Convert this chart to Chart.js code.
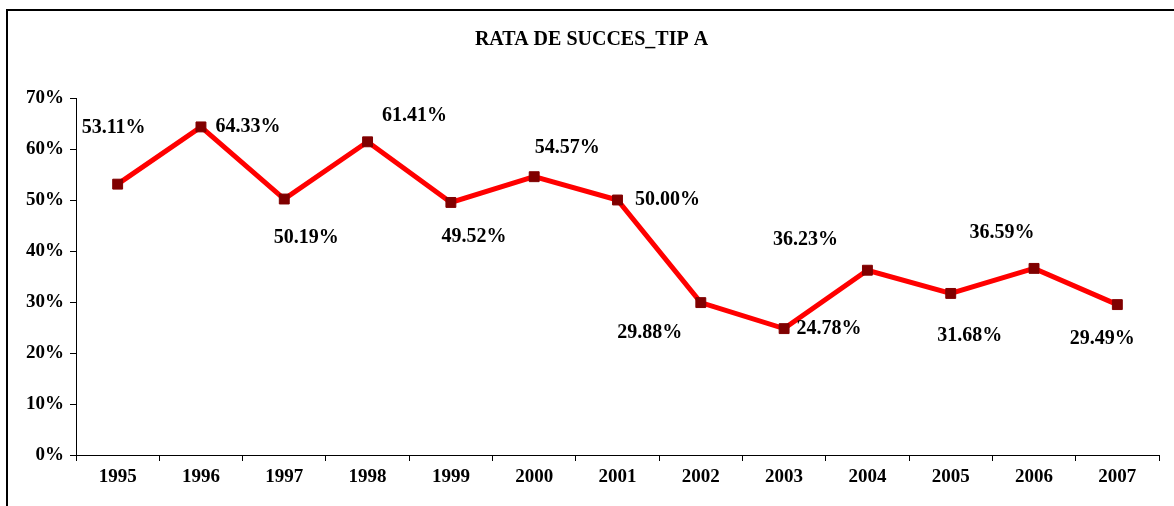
<!DOCTYPE html>
<html>
<head>
<meta charset="utf-8">
<script src="https://cdn.jsdelivr.net/npm/chart.js@4/dist/chart.umd.min.js"></script>
<style>
  html, body { margin: 0; padding: 0; background: #fff; }
  #wrap { width: 1174px; height: 506px; position: relative; }
</style>
</head>
<body>
<div id="wrap"><canvas id="c" width="1174" height="506"></canvas></div>
<script>
'use strict';

const years = ['1995', '1996', '1997', '1998', '1999', '2000', '2001',
  '2002', '2003', '2004', '2005', '2006', '2007'];
const successRate = [53.11, 64.33, 50.19, 61.41, 49.52, 54.57, 50.00,
  29.88, 24.78, 36.23, 31.68, 36.59, 29.49];
const yTicks = [0, 10, 20, 30, 40, 50, 60, 70];

// where each value label sits relative to its point (dx, dy)
const labelOffsets = [
  [-4, -56], [47, 0], [22, 39], [47, -26], [23, 34], [33, -29], [50, 0],
  [-51, 30], [45, 0], [-62, -30], [19, 42], [-32, -36], [-15, 34]
];

const serif = '"Liberation Serif", "Times New Roman", serif';

const frame = {
  id: 'frame',
  beforeDraw(chart) {
    const ctx = chart.ctx;
    ctx.save();
    ctx.fillStyle = '#fff';
    ctx.fillRect(0, 0, chart.width, chart.height);
    ctx.strokeStyle = '#000';
    ctx.lineWidth = 2;
    ctx.strokeRect(7, 10, chart.width + 20, chart.height + 20);
    ctx.restore();
  }
};

const valueLabels = {
  id: 'valueLabels',
  afterDatasetsDraw(chart) {
    const ctx = chart.ctx;
    const meta = chart.getDatasetMeta(0);
    ctx.save();
    ctx.font = 'bold 20px ' + serif;
    ctx.fillStyle = '#000';
    ctx.textAlign = 'center';
    ctx.textBaseline = 'middle';
    meta.data.forEach((pt, i) => {
      const off = labelOffsets[i];
      ctx.fillText(successRate[i].toFixed(2) + '%', pt.x + off[0], pt.y + off[1]);
    });
    ctx.restore();
  }
};

new Chart(document.getElementById('c'), {
  type: 'line',
  data: {
    labels: years,
    datasets: [{
      label: 'Rata de succes',
      data: successRate,
      borderColor: '#ff0000',
      borderWidth: 5,
      backgroundColor: '#800000',
      pointStyle: 'rect',
      pointRadius: 7,
      pointHoverRadius: 7,
      pointBackgroundColor: '#800000',
      pointBorderColor: '#800000',
      pointBorderWidth: 1,
      tension: 0
    }]
  },
  options: {
    responsive: false,
    animation: false,
    devicePixelRatio: 1,
    layout: { padding: { top: 20, right: 15, bottom: 0, left: 24 } },
    plugins: {
      legend: { display: false },
      tooltip: { enabled: false },
      title: {
        display: true,
        text: 'RATA DE SUCCES_TIP A',
        color: '#000',
        font: { family: serif, size: 20, weight: 'bold' },
        padding: { top: 8, bottom: 46 }
      }
    },
    scales: {
      x: {
        offset: true,
        grid: {
          offset: true,
          drawOnChartArea: false,
          drawTicks: true,
          tickLength: 6,
          color: '#000'
        },
        border: { color: '#000', width: 1 },
        ticks: {
          color: '#000',
          padding: 5,
          maxRotation: 0,
          font: { family: serif, size: 19, weight: 'bold' }
        },
        afterFit(scale) { scale.height = 51; }
      },
      y: {
        min: 0,
        max: 70,
        afterBuildTicks(scale) {
          scale.ticks = yTicks.map(v => ({ value: v }));
        },
        grid: {
          drawOnChartArea: false,
          drawTicks: true,
          tickLength: 6,
          color: '#000'
        },
        border: { color: '#000', width: 1 },
        ticks: {
          color: '#000',
          padding: 6,
          font: { family: serif, size: 19, weight: 'bold' },
          callback: v => v + '%'
        },
        afterFit(scale) { scale.width = 52; }
      }
    }
  },
  plugins: [frame, valueLabels]
});
</script>
</body>
</html>
